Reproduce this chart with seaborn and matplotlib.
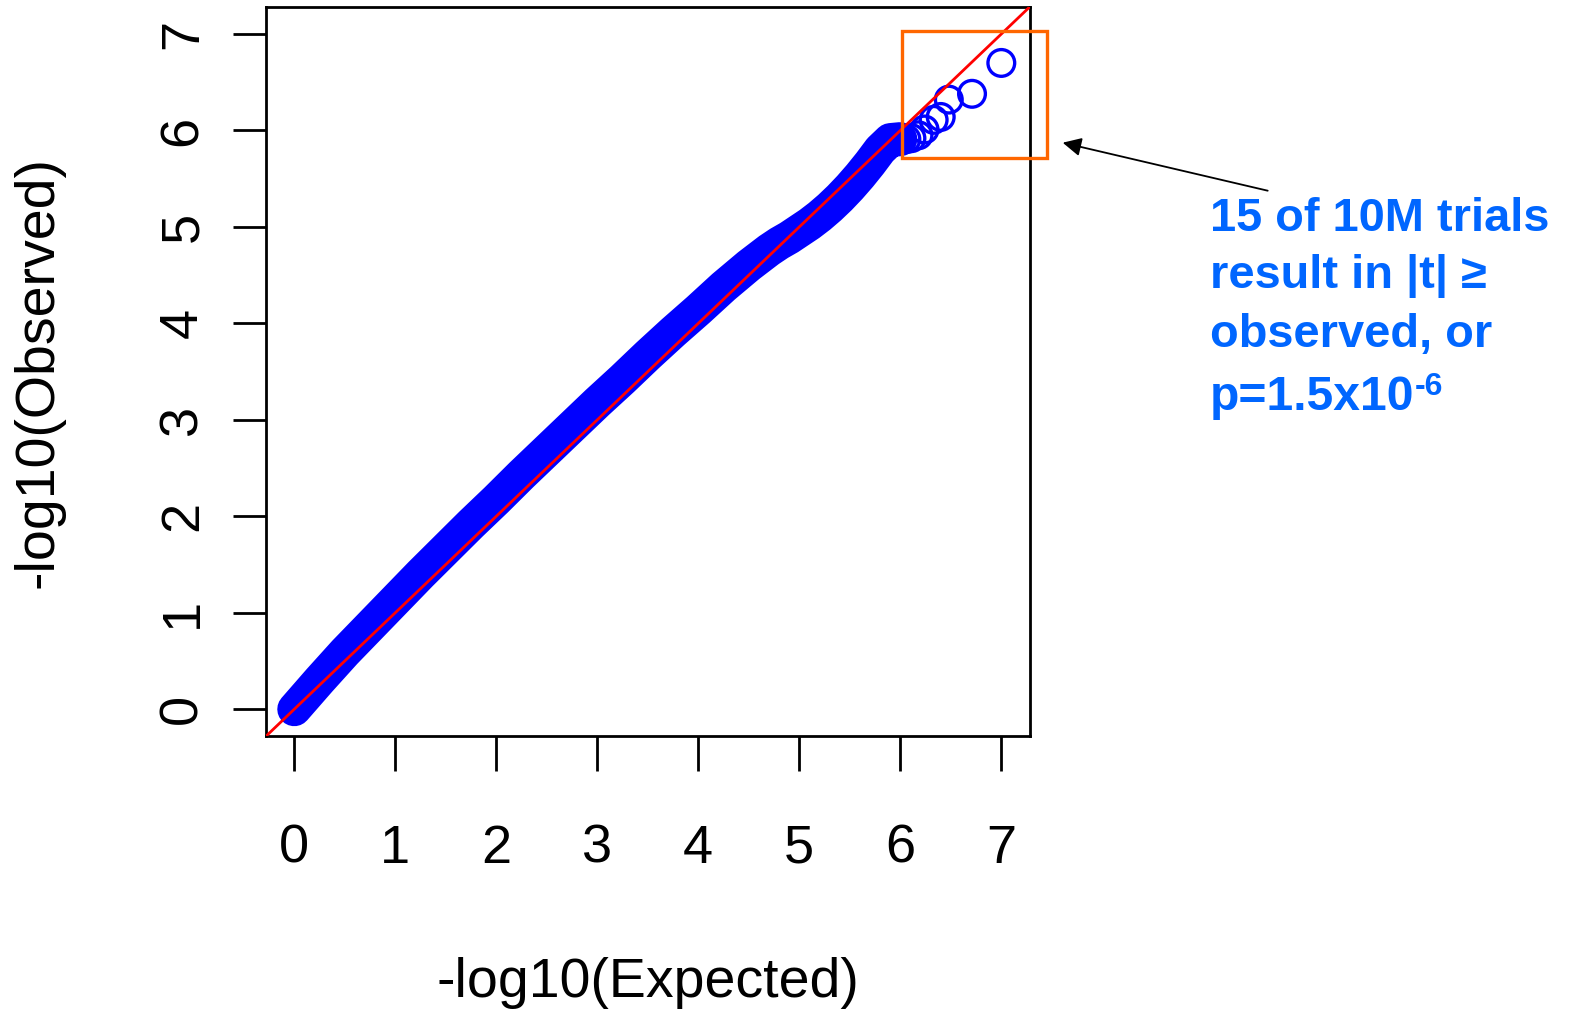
import matplotlib
matplotlib.use("Agg")
import matplotlib.pyplot as plt
import matplotlib.patches as mpatches
import seaborn as sns
import pandas as pd

# ---- data ----
expected = [0.0, 0.25, 0.5, 0.75, 1.0, 1.25, 1.5, 1.75, 2.0, 2.25, 2.5, 2.75,
            3.0, 3.25, 3.5, 3.75, 4.0, 4.25, 4.5, 4.6, 4.7, 4.8, 4.9, 5.0,
            5.1, 5.2, 5.3, 5.4, 5.5, 5.6, 5.7, 5.8, 5.9, 6.0]
observed = [0.0, 0.30, 0.59, 0.86, 1.13, 1.40, 1.66, 1.92, 2.17, 2.43, 2.68, 2.93,
            3.18, 3.42, 3.67, 3.91, 4.14, 4.38, 4.60, 4.68, 4.76, 4.83, 4.89, 4.96,
            5.03, 5.11, 5.20, 5.30, 5.41, 5.53, 5.66, 5.80, 5.90, 5.91]
tail_expected = [6.06, 6.11, 6.18, 6.24, 6.33, 6.40, 6.48, 6.71, 7.00]
tail_observed = [5.91, 5.92, 5.95, 6.01, 6.11, 6.14, 6.32, 6.38, 6.70]
tick_values = [0, 1, 2, 3, 4, 5, 6, 7]
x_label = "-log10(Expected)"
y_label = "-log10(Observed)"
note_lines = ["15 of 10M trials", "result in |t| \u2265", "observed, or", "p=1.5x10"]
note_sup = "-6"

sns.set_style("white")
plt.rcParams['font.family'] = ['Liberation Sans', 'DejaVu Sans']

W, H = 1575, 1009
fig = plt.figure(figsize=(W / 100, H / 100), dpi=100)
ax = fig.add_axes([266.2 / W, 1 - 736.3 / H, 763.4 / W, 729.3 / H])

band = pd.DataFrame({"expected": expected, "observed": observed})
tail = pd.DataFrame({"expected": tail_expected, "observed": tail_observed})

BLUE = "#0000FF"
sns.lineplot(data=band, x="expected", y="observed", ax=ax, color=BLUE,
             lw=24.5, sort=False, estimator=None,
             solid_capstyle="round", solid_joinstyle="round", zorder=2)
sns.scatterplot(data=tail, x="expected", y="observed", ax=ax, s=370,
                facecolor="none", edgecolor=BLUE, linewidth=2.4, zorder=3)

ax.axline((0, 0), slope=1, color="#FF0000", lw=2.0, zorder=4)

ax.set_xlim(-0.278, 7.28)
ax.set_ylim(-0.281, 7.28)
ax.set_xticks(tick_values)
ax.set_yticks(tick_values)
ax.set_xticklabels([str(v) for v in tick_values])
ax.set_yticklabels([str(v) for v in tick_values])

for sp in ax.spines.values():
    sp.set_linewidth(2.0)
    sp.set_color("black")

ax.tick_params(axis="x", direction="out", length=25, width=2.0, pad=38,
               labelsize=39, colors="black", bottom=True)
ax.tick_params(axis="y", direction="out", length=24, width=2.0, pad=18,
               labelsize=39, colors="black", left=True, labelrotation=90)
for lab in ax.get_yticklabels():
    lab.set_va("center")

ax.set_xlabel(x_label, fontsize=40, color="black")
ax.set_ylabel(y_label, fontsize=40, color="black")
ax.xaxis.set_label_coords(0.4994, -0.3026)
ax.yaxis.set_label_coords(-0.2636, 0.5)

# orange highlight box
rect = mpatches.Rectangle((6.014, 5.713), 7.45 - 6.014, 7.033 - 5.713,
                          fill=False, edgecolor="#FF6600", lw=2.4,
                          clip_on=False, zorder=5)
ax.add_patch(rect)

# arrow
ax.annotate("", xy=(1062.7 / W, 1 - 142.7 / H), xycoords="figure fraction",
            xytext=(1267.7 / W, 1 - 190.7 / H), textcoords="figure fraction",
            arrowprops=dict(arrowstyle="-|>", color="black", lw=1.3,
                            mutation_scale=28, shrinkA=0, shrinkB=0))

# annotation text
NOTE = "#0066FF"
baselines = [231, 288.3, 346.7, 410]
sizes = [33.8, 33.8, 33.8, 34.6]
texts = []
for line, b, fs in zip(note_lines, baselines, sizes):
    t = fig.text(1210 / W, 1 - b / H, line, color=NOTE, fontsize=fs,
                 fontweight="bold", ha="left", va="baseline")
    texts.append(t)
ax.annotate(note_sup, xy=(1, 0), xycoords=texts[-1],
            xytext=(0, 18), textcoords="offset points",
            color=NOTE, fontsize=23, fontweight="bold",
            ha="left", va="baseline")

fig.savefig("out.png", dpi=100)
